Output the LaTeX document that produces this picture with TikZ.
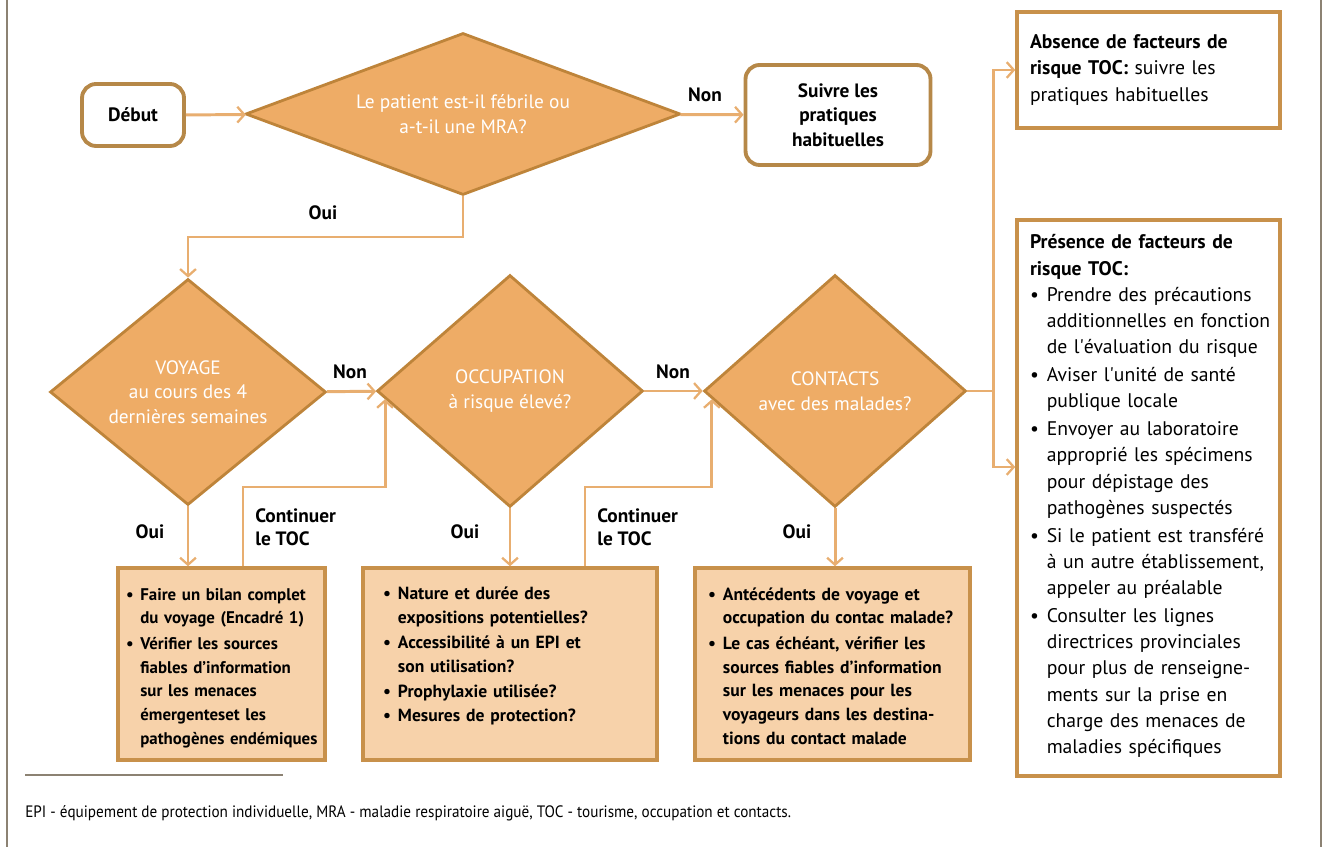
\documentclass[tikz,border=0pt]{standalone}
\usepackage{fontspec}
\setmainfont{PT Sans}
\newfontfamily\notefont[FakeStretch=0.92]{PT Sans}
\usetikzlibrary{shapes.geometric}
\usetikzlibrary{arrows.meta}
\usetikzlibrary{calc}
\setlength{\parindent}{0pt}
\setlength{\lineskip}{0pt}

\definecolor{orangelos}{RGB}{238,172,102}
\definecolor{bordlos}{RGB}{190,132,58}
\definecolor{peche}{RGB}{247,210,170}
\definecolor{bordboite}{RGB}{200,145,75}
\definecolor{bordrond}{RGB}{182,136,72}
\definecolor{ligne}{RGB}{232,174,112}
\definecolor{cadre}{RGB}{140,130,115}

% puce avec retrait suspendu
\newcommand{\puce}[1]{\par\makebox[0.85em][l]{\textbullet}\parbox[t]{\hsize}{\raggedright\strut #1\strut}}

\tikzset{
  flow/.style={draw=ligne, line width=1.7pt, -{Straight Barb[length=4pt,width=9pt,line width=1.3pt]}},
  trait/.style={draw=ligne, line width=1.7pt},
  losange/.style={diamond, draw=bordlos, line width=1.6pt, fill=orangelos, text=white,
    align=center, inner sep=0pt, font=\fontsize{11}{14}\selectfont},
  arrondi/.style={rectangle, rounded corners=8pt, draw=bordrond, line width=2.2pt, fill=white,
    align=center, font=\bfseries\fontsize{11}{14}\selectfont},
  encadre/.style={rectangle, draw=bordboite, line width=2pt, fill=peche, align=left,
    minimum height=3.84cm, font=\bfseries\fontsize{10}{13.5}\selectfont},
  cote/.style={rectangle, draw=bordboite, line width=2pt, fill=white, align=left,
    inner xsep=0.26cm, text width=4.74cm, font=\fontsize{11.2}{14.9}\selectfont},
  lbl/.style={font=\bfseries\fontsize{11}{13}\selectfont, align=left, inner sep=0pt},
}

\begin{document}
\begin{tikzpicture}[x=0.02cm, y=-0.02cm]
  \useasboundingbox (0,0) rectangle (1326,847);

  % cadre
  \draw[cadre, line width=1.2pt] (7,0) -- (7,847);
  \draw[cadre, line width=1.2pt] (1321,0) -- (1321,847);

  % premiere rangee
  \node[arrondi, minimum width=2.04cm, minimum height=1.24cm] (debut) at (133,115) {Début};
  \node[losange, minimum width=8.7cm, minimum height=3.24cm, aspect=2.68] (fievre) at (463,114)
    {Le patient est-il fébrile ou\\a-t-il une MRA?};
  \node[arrondi, minimum width=3.7cm, minimum height=2cm] (suivre) at (838,115)
    {Suivre les\\pratiques\\habituelles};

  % les trois questions TOC
  \node[losange, minimum width=5.52cm, minimum height=4.52cm, aspect=1.22] (voyage) at (188,392)
    {VOYAGE\\au cours des 4\\dernières semaines};
  \node[losange, minimum width=5.32cm, minimum height=4.64cm, aspect=1.15] (occup) at (510,391)
    {OCCUPATION\\à risque élevé?};
  \node[losange, minimum width=5.24cm, minimum height=4.64cm, aspect=1.13] (contact) at (835,391)
    {CONTACTS\\avec des malades?};

  % encadres du bas
  \node[encadre, inner xsep=0.16cm, text width=3.82cm, font=\bfseries\fontsize{9.6}{13.5}\selectfont] (bilan) at (221.5,664)
    {\puce{Faire un bilan complet\\du voyage (Encadré 1)}
     \puce{Vérifier les sources\\fiables d’information\\sur les menaces\\émergenteset les\\pathogènes endémiques}};
  \node[encadre, inner xsep=0.4cm, text width=5.08cm] (expo) at (510,664)
    {\puce{Nature et durée des\\expositions potentielles?}
     \puce{Accessibilité à un EPI et\\son utilisation?}
     \puce{Prophylaxie utilisée?}
     \puce{Mesures de protection?}\par\strut};
  \node[encadre, inner xsep=0.26cm, text width=4.98cm] (ante) at (832.5,664)
    {\puce{Antécédents de voyage et\\occupation du contac malade?}
     \puce{Le cas échéant, vérifier les\\sources fiables d’information\\sur les menaces pour les\\voyageurs dans les destina-\\tions du contact malade}};

  % encadres de droite
  \node[cote, minimum height=2.32cm] (absence) at (1148.5,70)
    {\textbf{Absence de facteurs de}\\\textbf{risque TOC:} suivre les\\pratiques habituelles};
  \node[cote, minimum height=11.12cm] (presence) at (1148.5,498)
    {\textbf{Présence de facteurs de}\\\textbf{risque TOC:}
     \puce{Prendre des précautions\\additionnelles en fonction\\de l\textquotesingle évaluation du risque}
     \puce{Aviser l\textquotesingle unité de santé\\publique locale}
     \puce{Envoyer au laboratoire\\approprié les spécimens\\pour dépistage des\\pathogènes suspectés}
     \puce{Si le patient est transféré\\à un autre établissement,\\appeler au préalable}
     \puce{Consulter les lignes\\directrices provinciales\\pour plus de renseigne-\\ments sur la prise en\\charge des menaces de\\maladies spécifiques}};

  % points de passage
  \coordinate (coude) at (300,237);
  \coordinate (k1) at (243,487);
  \coordinate (k2) at (585,487);
  \coordinate (tip1) at ($(occup.west)!0.07!(occup.south)$);
  \coordinate (tip2) at ($(contact.west)!0.07!(contact.south)$);
  \coordinate (fourche) at (993,391);
  \coordinate (bas) at (993,467);

  % connecteurs
  \draw[flow] (debut) -- (fievre);
  \draw[flow] (fievre) -- (suivre);
  \draw[flow] (fievre.south) |- (coude) -| (voyage.north);
  \draw[flow] (voyage) -- (occup);
  \draw[flow] (occup) -- (contact);
  \draw[flow] (voyage.south) -- (voyage.south |- bilan.north);
  \draw[flow] (occup.south) -- (expo.north);
  \draw[flow] (contact.south) -- (contact.south |- ante.north);
  \draw[flow] (bilan.north -| k1) -- (k1) -| (tip1);
  \draw[flow] (expo.north -| k2) -- (k2) -| (tip2);
  \draw[trait] (contact.east) -- (fourche);
  \draw[flow] (fourche) |- (absence.west);
  \draw[flow] (fourche) -- (bas) -- (bas -| presence.west);

  % etiquettes
  \node[lbl] (non1) at (705,95) {Non};
  \node[lbl] (oui1) at (323,213) {Oui};
  \node[lbl] (non2) at (350,372) {Non};
  \node[lbl] (non3) at (673,372) {Non};
  \node[lbl] (oui2) at (150,532) {Oui};
  \node[lbl] (oui3) at (465,532) {Oui};
  \node[lbl] (oui4) at (797,532) {Oui};
  \node[lbl, anchor=west] (cont1) at (255,527) {Continuer\\le TOC};
  \node[lbl, anchor=west] (cont2) at (597,527) {Continuer\\le TOC};

  % note
  \draw[cadre, line width=0.6pt] (25,775) -- (283,775);
  \node[anchor=west, inner sep=0pt, font=\notefont\fontsize{9.4}{11}\selectfont] (note) at (25,813)
    {EPI - équipement de protection individuelle, MRA - maladie respiratoire aiguë, TOC - tourisme, occupation et contacts.};
\end{tikzpicture}
\end{document}
